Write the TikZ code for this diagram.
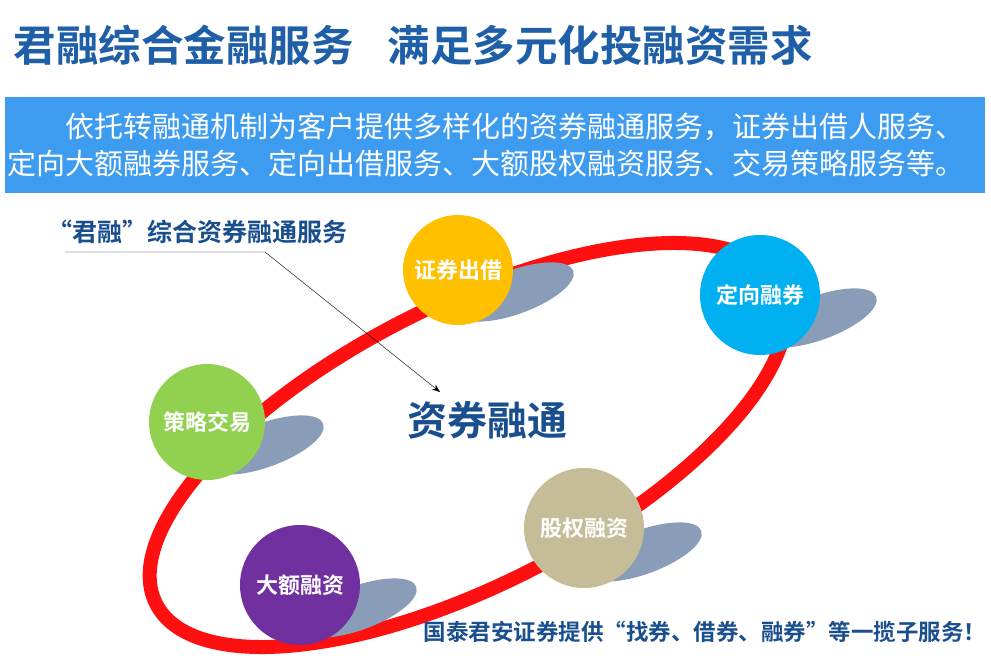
\documentclass[tikz,border=0pt]{standalone}
\usepackage{fontspec}
\setmainfont{Noto Sans CJK SC}
\newfontfamily\cjkb{Noto Sans CJK SC Bold}
\usetikzlibrary{arrows.meta}
\definecolor{ttl}{HTML}{1F5FA8}
\definecolor{dkb}{HTML}{1A4F8F}
\definecolor{band}{HTML}{3D9BF0}
\definecolor{ring}{HTML}{FF1010}
\definecolor{shd}{HTML}{8A9DB8}
\tikzset{
 bub/.style={circle,minimum size=#1,inner sep=0pt,text=white,font=\cjkb\fontsize{22}{22}\selectfont},
}
\begin{document}
\begin{tikzpicture}[x=1pt,y=-1pt]
\useasboundingbox (0,0) rectangle (991,672);
\fill[white] (0,0) rectangle (991,672);
\node[anchor=west,text=ttl,font=\cjkb\fontsize{42.5}{42.5}\selectfont] (title) at (10,45) {君融综合金融服务\hspace{0.8em}满足多元化投融资需求};
\fill[band] (5,97) rectangle (985,193);
\node[anchor=west,text=white,align=left,font=\fontsize{29}{37}\selectfont] (banner) at (4,145) {\hspace{2em}依托转融通机制为客户提供多样化的资券融通服务，证券出借人服务、\\定向大额融券服务、定向出借服务、大额股权融资服务、交易策略服务等。};
% ring
\draw[ring,line width=14pt] (468,445) ellipse[x radius=350,y radius=140,rotate=27];
% shadows
\foreach \x/\y in {515/292,818/318,265/445,643/552,358/608}
 \fill[shd] (\x,\y) ellipse[x radius=62,y radius=22,rotate=20];
\node[bub=110,fill={rgb,255:red,255;green,192;blue,0}] (c1) at (458,270) {证券出借};
\node[bub=120,fill={rgb,255:red,0;green,176;blue,240}] (c2) at (760,295) {定向融券};
\node[bub=116,fill={rgb,255:red,146;green,208;blue,80}] (c3) at (207,422) {策略交易};
\node[bub=120,fill={rgb,255:red,196;green,189;blue,151}] (c4) at (584,528) {股权融资};
\node[bub=120,fill={rgb,255:red,112;green,48;blue,160}] (c5) at (300,585) {大额融资};
\node[text=dkb,font=\cjkb\fontsize{40}{40}\selectfont] (center) at (487,420) {资券融通};
\node[anchor=west,text=dkb,font=\cjkb\fontsize{25}{25}\selectfont] (lab) at (44,232) {“君融”综合资券融通服务};
\coordinate (k1) at (65,252);
\coordinate (k2) at (265,252);
\coordinate (k3) at (440,392);
\draw[-{Stealth[length=8pt]}] (k1) -- (k2) -- (k3);
\node[anchor=east,text=dkb,font=\cjkb\fontsize{22.5}{22.5}\selectfont] (foot) at (990,632) {国泰君安证券提供“找券、借券、融券”等一揽子服务！};
\end{tikzpicture}
\end{document}
